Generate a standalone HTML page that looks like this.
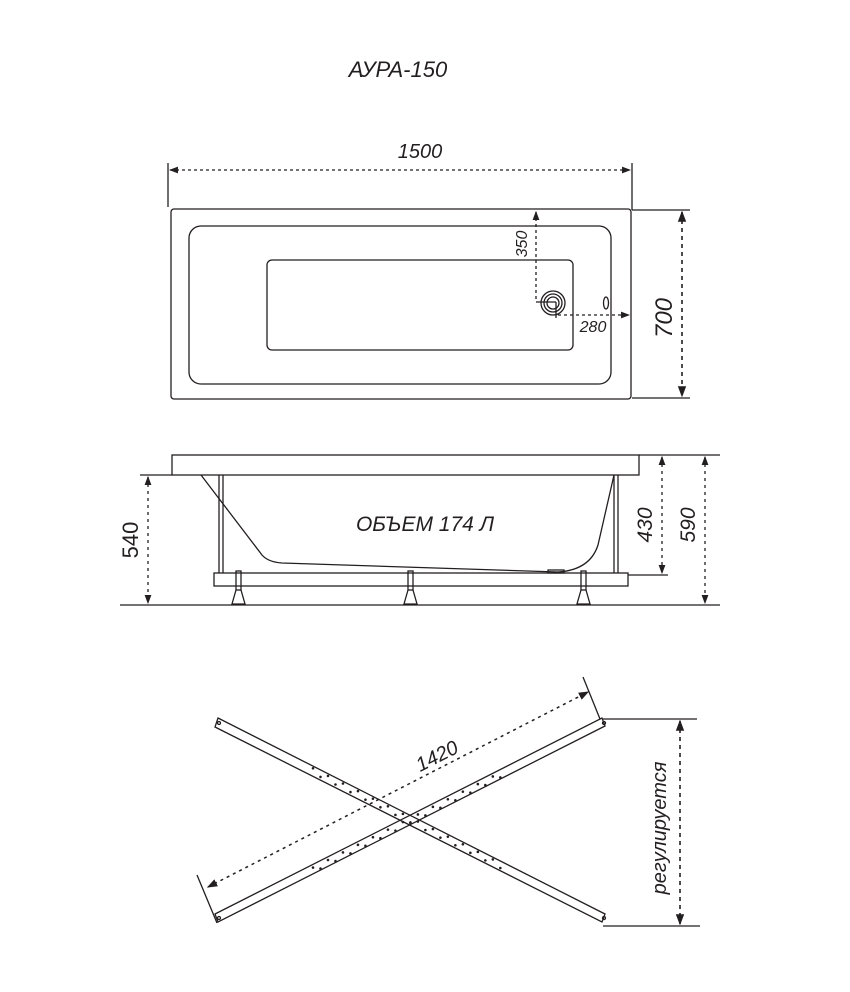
<!DOCTYPE html>
<html><head><meta charset="utf-8"><style>
html,body{margin:0;padding:0;background:#fff;}
svg{display:block;}
text{font-family:"Liberation Sans","DejaVu Sans",sans-serif;fill:#231f20;}
</style></head><body>
<svg width="850" height="992" viewBox="0 0 850 992" xmlns="http://www.w3.org/2000/svg">
<defs>
<marker id="ar" viewBox="0 0 8 8" refX="7" refY="4" markerWidth="7" markerHeight="7" orient="auto-start-reverse"><path d="M0,1 L8,4 L0,7 z" fill="#231f20"/></marker>
</defs>
<g stroke="#231f20" fill="none" stroke-width="1.3">
<text x="398" y="77" font-size="22" font-style="italic" text-anchor="middle" stroke="none">АУРА-150</text>

<!-- top view -->
<line x1="168" y1="163" x2="168" y2="207"/>
<line x1="632" y1="163" x2="632" y2="210"/>
<line x1="170" y1="170" x2="630" y2="170" stroke-dasharray="3,3" marker-start="url(#ar)" marker-end="url(#ar)"/>
<text x="420" y="158" font-size="20" font-style="italic" text-anchor="middle" stroke="none">1500</text>
<rect x="171" y="209" width="460" height="190" rx="3"/>
<rect x="189" y="226" width="422" height="158" rx="12"/>
<rect x="267" y="260" width="306" height="90" rx="5"/>
<circle cx="553" cy="303" r="12"/><circle cx="553" cy="303" r="9"/><circle cx="553" cy="303" r="6"/>
<ellipse cx="606" cy="303" rx="2.5" ry="6"/>
<line x1="536" y1="302" x2="556" y2="302"/>
<line x1="556" y1="302" x2="556" y2="318"/>
<line x1="536" y1="212" x2="536" y2="300" stroke-dasharray="3,3" marker-start="url(#ar)"/>
<line x1="558" y1="315" x2="629" y2="315" stroke-dasharray="3,3" marker-end="url(#ar)"/>
<text transform="translate(527,244) rotate(-90)" font-size="16" font-style="italic" text-anchor="middle" stroke="none">350</text>
<text x="593" y="332" font-size="16" font-style="italic" text-anchor="middle" stroke="none">280</text>
<line x1="632" y1="210" x2="690" y2="210"/>
<line x1="632" y1="398" x2="690" y2="398"/>
<line x1="682" y1="212" x2="682" y2="396" stroke-dasharray="4,4" stroke-width="1.6" marker-start="url(#ar)" marker-end="url(#ar)"/>
<text transform="translate(672,318) rotate(-90)" font-size="24" font-style="italic" text-anchor="middle" stroke="none">700</text>

<!-- side view -->
<line x1="120" y1="605" x2="720" y2="605"/>
<rect x="172" y="455" width="467" height="20"/>
<path d="M201,475 L262,555 Q268,562 282,563 L558,572 Q590,570 598,545 L614,475"/>
<line x1="219" y1="475" x2="219" y2="573"/><line x1="223" y1="475" x2="223" y2="573"/>
<line x1="614" y1="475" x2="614" y2="573"/><line x1="618" y1="475" x2="618" y2="573"/>
<rect x="214" y="573" width="414" height="13"/>
<rect x="548" y="570" width="16" height="3"/>
<g id="ft"><rect x="236" y="571" width="5" height="19"/><path d="M236,590 L232,604 L245,604 L241,590"/></g>
<use href="#ft" x="172"/><use href="#ft" x="345"/>
<line x1="140" y1="475" x2="172" y2="475"/>
<line x1="148" y1="477" x2="148" y2="603" stroke-dasharray="3,4" marker-start="url(#ar)" marker-end="url(#ar)"/>
<text transform="translate(138,540) rotate(-90)" font-size="22" text-anchor="middle" stroke="none">540</text>
<line x1="639" y1="455" x2="720" y2="455"/>
<line x1="628" y1="575" x2="668" y2="575"/>
<line x1="662" y1="457" x2="662" y2="573" stroke-dasharray="3,4" marker-start="url(#ar)" marker-end="url(#ar)"/>
<text transform="translate(652,525) rotate(-90)" font-size="21" font-style="italic" text-anchor="middle" stroke="none">430</text>
<line x1="705" y1="457" x2="705" y2="603" stroke-dasharray="3,4" marker-start="url(#ar)" marker-end="url(#ar)"/>
<text transform="translate(695,525) rotate(-90)" font-size="21" font-style="italic" text-anchor="middle" stroke="none">590</text>
<text x="425" y="531" font-size="21" font-style="italic" text-anchor="middle" stroke="none">ОБЪЕМ 174 Л</text>

<!-- cross frame -->
<polygon points="218,718 605,914 602,922 215,727"/>
<polygon points="215,914 602,718 605,726 218,922"/>
<circle cx="219" cy="723" r="1.5"/><circle cx="604" cy="918" r="1.5"/>
<circle cx="219" cy="918" r="1.5"/><circle cx="604" cy="723" r="1.5"/>
<g stroke-width="2.6" stroke-linecap="round" stroke-dasharray="0,16.8">
<line x1="313" y1="768.3" x2="505" y2="865.6"/>
<line x1="320.5" y1="776.9" x2="505" y2="870.4"/>
<line x1="313" y1="867.6" x2="505" y2="770.3"/>
<line x1="320.5" y1="868.6" x2="505" y2="775.1"/>
</g>
<line x1="583" y1="677" x2="600" y2="719"/>
<line x1="197" y1="875" x2="217" y2="923"/>
<line x1="208" y1="887" x2="588" y2="692" stroke-dasharray="3,4" stroke-width="1.5" marker-start="url(#ar)" marker-end="url(#ar)"/>
<text transform="translate(440,762) rotate(-27)" font-size="20" font-style="italic" text-anchor="middle" stroke="none">1420</text>
<line x1="603" y1="719" x2="697" y2="719"/>
<line x1="603" y1="926" x2="700" y2="926"/>
<line x1="680" y1="721" x2="680" y2="924" stroke-dasharray="4,4" stroke-width="1.6" marker-start="url(#ar)" marker-end="url(#ar)"/>
<text transform="translate(666,828) rotate(-90)" font-size="20" font-style="italic" text-anchor="middle" stroke="none">регулируется</text>
</g>
</svg>
</body></html>
